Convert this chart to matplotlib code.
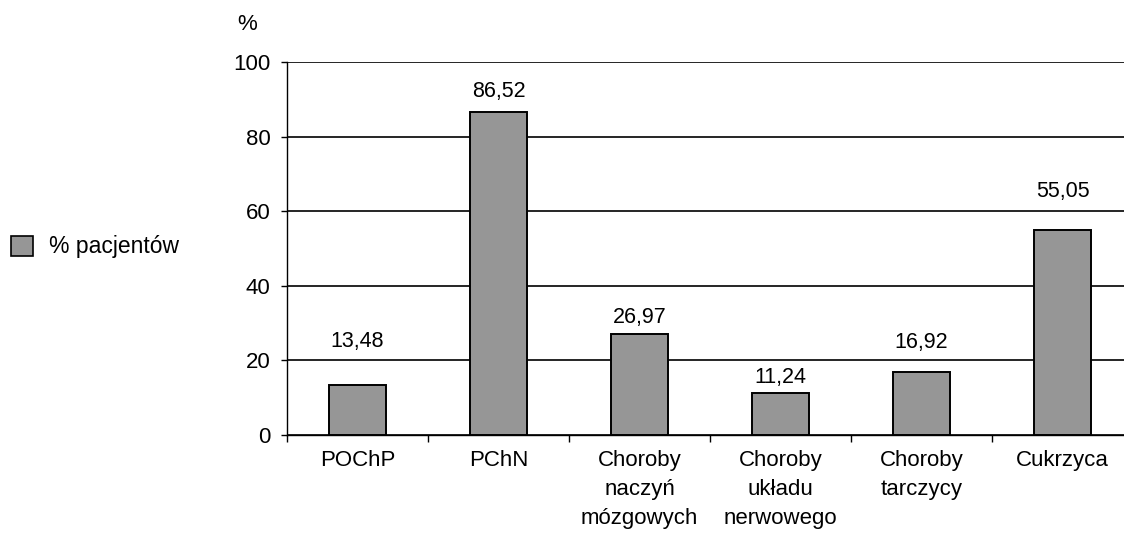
import matplotlib
matplotlib.use("Agg")
import matplotlib.pyplot as plt
from matplotlib.patches import Patch

plt.rcParams['font.family'] = ['Liberation Sans', 'DejaVu Sans']

categories = ["POChP", "PChN", "Choroby\nnaczyń\nmózgowych", "Choroby\nukładu\nnerwowego", "Choroby\ntarczycy", "Cukrzyca"]
values = [13.48, 86.52, 26.97, 11.24, 16.92, 55.05]
labels = ["13,48", "86,52", "26,97", "11,24", "16,92", "55,05"]
series_name = "% pacjentów"
yticks = [0, 20, 40, 60, 80, 100]
# label offsets above the bar tops (data units), as placed in the original
label_offsets = [11.6, 5.7, 4.6, 4.3, 8.0, 10.1]

W, H = 1124, 538
fig = plt.figure(figsize=(W / 100, H / 100), dpi=100)
x0, x1, y0, y1 = 287, 1133, 435, 62
ax = fig.add_axes([x0 / W, 1 - y0 / H, (x1 - x0) / W, (y0 - y1) / H])

x = list(range(len(categories)))
ax.bar(x, values, width=0.40, color="#969696", edgecolor="black", linewidth=1.4, zorder=3)
for xi, v, lab, off in zip(x, values, labels, label_offsets):
    ax.text(xi, v + off, lab, ha="center", va="center", fontsize=15.5)

ax.set_xlim(-0.5, len(categories) - 0.5)
ax.set_ylim(0, 100)
ax.set_yticks(yticks)
ax.set_yticklabels([str(t) for t in yticks], fontsize=16)
ax.yaxis.grid(True, color="black", linewidth=1.2, zorder=0)
ax.set_axisbelow(True)

ax.set_xticks([i - 0.5 for i in range(len(categories) + 1)])
ax.set_xticklabels([])
ax.set_xticks(x, minor=True)
ax.set_xticklabels(categories, minor=True, fontsize=16, linespacing=1.5, va="top")
ax.tick_params(axis="x", which="minor", length=0, pad=11)
ax.tick_params(axis="x", which="major", direction="out", length=5, width=1)
ax.tick_params(axis="y", direction="out", length=4, width=1, pad=8)

for s in ["top", "right"]:
    ax.spines[s].set_visible(False)
ax.spines["left"].set_linewidth(1.0)
ax.spines["bottom"].set_linewidth(1.0)

fig.text(247 / W, 1 - 25 / H, "%", ha="center", va="center", fontsize=16)

handle = Patch(facecolor="#969696", edgecolor="black", linewidth=1.2)
fig.legend([handle], [series_name], loc="center left", bbox_to_anchor=(0.0, 1 - 247 / H),
           frameon=False, fontsize=16.5, handlelength=0.95, handleheight=0.95, handletextpad=0.7,
           borderpad=0.2, borderaxespad=0.3)

fig.savefig("out.png", dpi=100)
